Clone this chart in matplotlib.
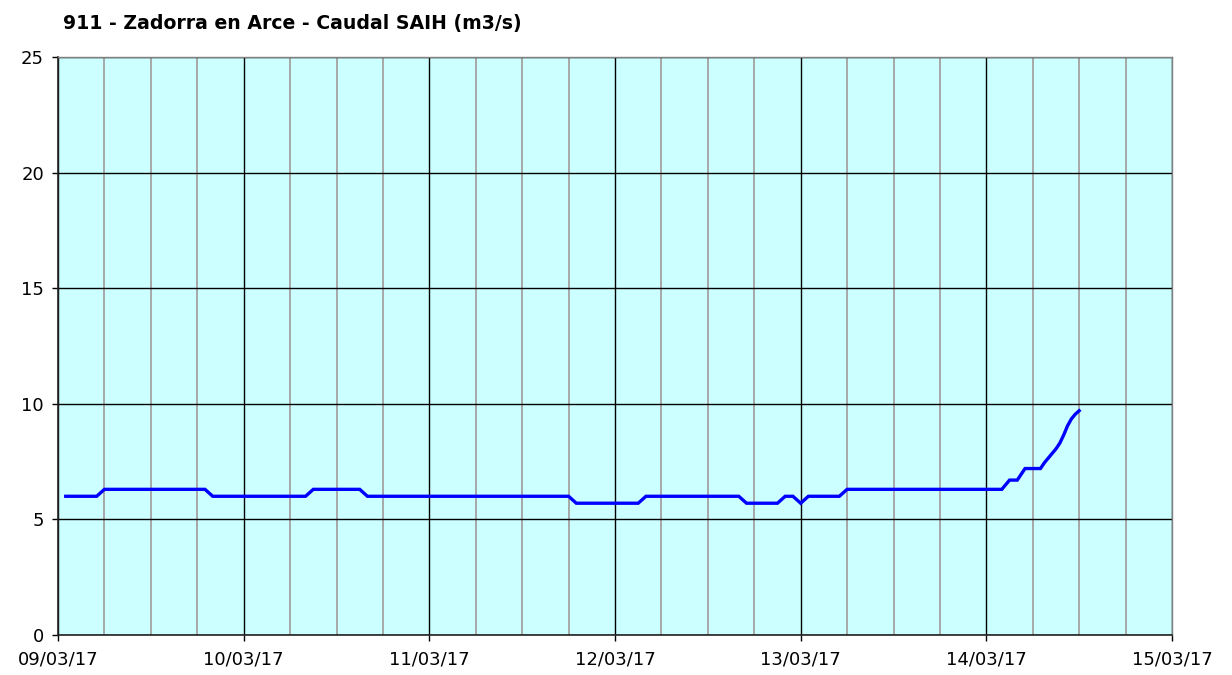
import matplotlib
matplotlib.use("Agg")
import matplotlib.pyplot as plt
import matplotlib.dates as mdates
from datetime import datetime

# datos (hora local, caudal m3/s)
fechas = ["09/03/17 01:00", "09/03/17 05:00", "09/03/17 06:00", "09/03/17 19:00",
          "09/03/17 20:00", "10/03/17 08:00", "10/03/17 09:00", "10/03/17 15:00",
          "10/03/17 16:00", "11/03/17 18:00", "11/03/17 19:00", "12/03/17 03:00",
          "12/03/17 04:00", "12/03/17 16:00", "12/03/17 17:00", "12/03/17 21:00",
          "12/03/17 22:00", "12/03/17 23:00", "13/03/17 00:00", "13/03/17 01:00",
          "13/03/17 05:00", "13/03/17 06:00", "14/03/17 02:00", "14/03/17 03:00",
          "14/03/17 04:00", "14/03/17 05:00", "14/03/17 07:00", "14/03/17 07:30",
          "14/03/17 08:00", "14/03/17 08:30", "14/03/17 09:00", "14/03/17 09:30",
          "14/03/17 10:00", "14/03/17 10:30", "14/03/17 11:00", "14/03/17 11:30",
          "14/03/17 12:00"]
caudal = [6.0, 6.0, 6.3, 6.3,
          6.0, 6.0, 6.3, 6.3,
          6.0, 6.0, 5.7, 5.7,
          6.0, 6.0, 5.7, 5.7,
          6.0, 6.0, 5.7, 6.0,
          6.0, 6.3, 6.3, 6.7,
          6.7, 7.2, 7.2, 7.45,
          7.65, 7.85, 8.05, 8.3,
          8.65, 9.05, 9.35, 9.55,
          9.7]

titulo = "911 - Zadorra en Arce - Caudal SAIH (m3/s)"
x_ini = "09/03/17 00:00"
x_fin = "15/03/17 00:00"
y_max = 25

fmt = "%d/%m/%y %H:%M"
t = [datetime.strptime(f, fmt) for f in fechas]

fig = plt.figure(figsize=(12.32, 6.75), dpi=100)
ax = fig.add_axes([58 / 1232, 1 - 635 / 675, (1172 - 58) / 1232, (635 - 57) / 675])
ax.set_facecolor("#ccffff")

ax.plot(t, caudal, color="#0000ff", linewidth=2.4, solid_joinstyle="miter", zorder=5)

ax.set_xlim(datetime.strptime(x_ini, fmt), datetime.strptime(x_fin, fmt))
ax.set_ylim(0, y_max)

ax.xaxis.set_major_locator(mdates.DayLocator())
ax.xaxis.set_major_formatter(mdates.DateFormatter("%d/%m/%y"))
ax.xaxis.set_minor_locator(mdates.HourLocator(byhour=[6, 12, 18]))
ax.set_yticks(range(0, y_max + 1, 5))

ax.grid(which="major", color="black", linewidth=1.0, zorder=1)
ax.grid(which="minor", axis="x", color="#a8a8a8", linewidth=1.4, zorder=0)
ax.set_axisbelow(True)

ax.tick_params(which="major", length=4.5, width=1, color="black", labelsize=13)
ax.tick_params(axis="y", pad=5.5)
ax.tick_params(axis="x", pad=6.5)
ax.tick_params(which="minor", length=0)

for lado in ["left", "bottom"]:
    ax.spines[lado].set_color("#222222")
    ax.spines[lado].set_linewidth(1.2)
for lado in ["top", "right"]:
    ax.spines[lado].set_color("#808080")
    ax.spines[lado].set_linewidth(1.0)

fig.text(63 / 1232, 1 - 24 / 675, titulo, fontsize=13.6, fontweight="bold",
         ha="left", va="center")

fig.savefig("out.png", dpi=100)
